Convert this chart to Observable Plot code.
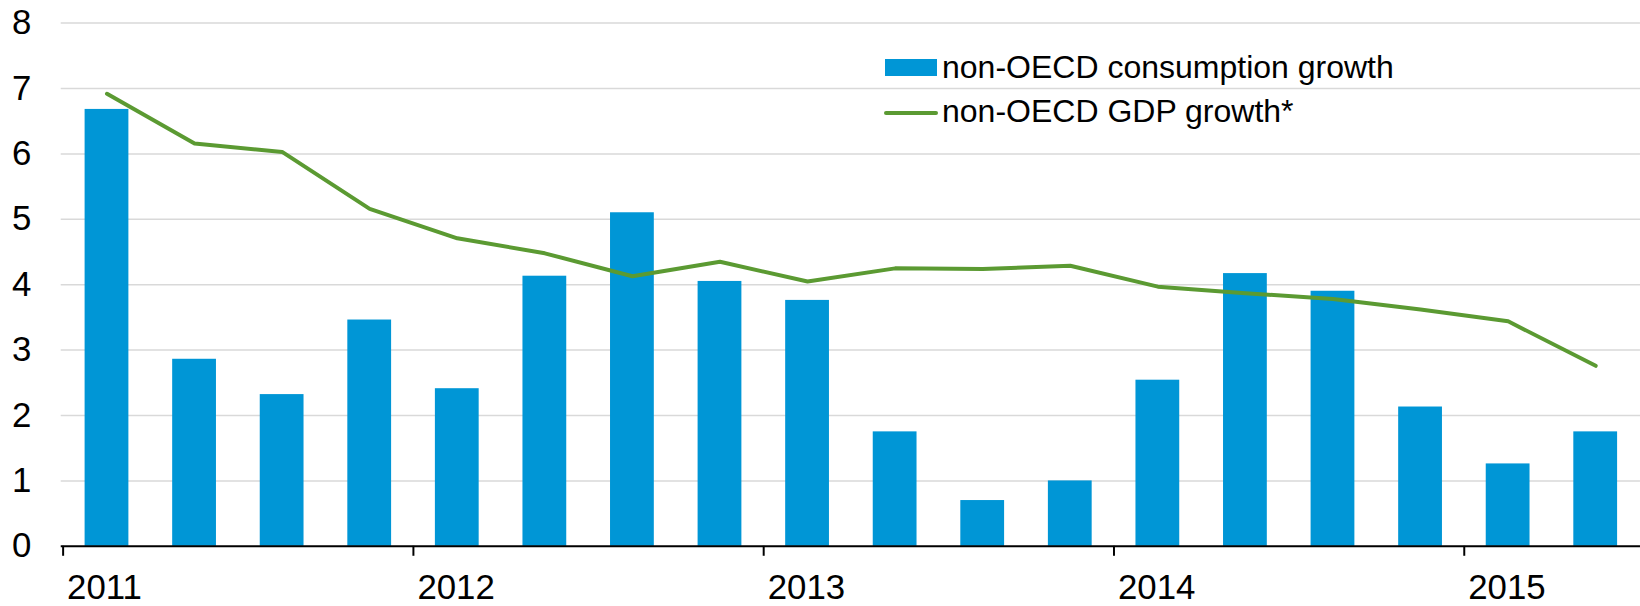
<!DOCTYPE html>
<html>
<head>
<meta charset="utf-8">
<script src="https://cdn.jsdelivr.net/npm/d3@7"></script>
<script src="https://cdn.jsdelivr.net/npm/@observablehq/plot@0.6"></script>
<style>
  html, body { margin: 0; padding: 0; background: #fff; overflow: hidden; }
  #wrap { position: relative; width: 1640px; height: 606px; overflow: hidden; }
  .lg { position: absolute; font-family: "Liberation Sans", Arial, sans-serif; font-size: 32px; line-height: 32px; color: #000; white-space: nowrap; }
  .sw { position: absolute; }
</style>
</head>
<body>
<div id="wrap"></div>
<script>
const quarters = ["2011Q1","2011Q2","2011Q3","2011Q4","2012Q1","2012Q2","2012Q3","2012Q4","2013Q1","2013Q2","2013Q3","2013Q4","2014Q1","2014Q2","2014Q3","2014Q4","2015Q1","2015Q2"];
const consumptionGrowth = [6.68, 2.86, 2.32, 3.46, 2.41, 4.13, 5.10, 4.05, 3.76, 1.75, 0.70, 1.00, 2.54, 4.17, 3.90, 2.13, 1.26, 1.75];
const gdpGrowth = [6.92, 6.16, 6.03, 5.16, 4.71, 4.48, 4.13, 4.35, 4.05, 4.25, 4.24, 4.29, 3.97, 3.87, 3.78, 3.62, 3.44, 2.76];
const yTicks = [0, 1, 2, 3, 4, 5, 6, 7, 8];
const yearTicks = ["2011Q1","2012Q1","2013Q1","2014Q1","2015Q1"];
const seriesNames = ["non-OECD consumption growth", "non-OECD GDP growth*"];

const barColor = "#0096d6";
const lineColor = "#5b9a32";

const data = quarters.map((q, i) => ({q, cons: consumptionGrowth[i], gdp: gdpGrowth[i]}));

const W = 1648, H = 606, ML = 61, MR = 0;
const step = (W - ML - MR) / quarters.length;

const chart = Plot.plot({
  width: W,
  height: H,
  marginLeft: ML,
  marginRight: MR,
  marginTop: 22.7,
  marginBottom: 57.5,
  style: {fontFamily: "Liberation Sans, Arial, sans-serif", fontSize: "35px", color: "#000", background: "#fff"},
  x: {type: "band", domain: quarters, paddingInner: 0.5, paddingOuter: 0.25, label: null},
  y: {domain: [0, 8], label: null},
  marks: [
    Plot.ruleY(yTicks.filter(d => d > 0), {stroke: "#d9d9d9", strokeWidth: 1.5}),
    Plot.barY(data, {x: "q", y: "cons", fill: barColor}),
    Plot.line(data, {x: "q", y: "gdp", stroke: lineColor, strokeWidth: 4, strokeLinejoin: "round", strokeLinecap: "round"}),
    Plot.ruleY([0], {stroke: "#000", strokeWidth: 2}),
    Plot.axisY({ticks: yTicks, anchor: "left", label: null, tickSize: 0, tickPadding: 30, fontSize: 35, tickFormat: d => String(d)}),
    Plot.axisX({ticks: yearTicks, anchor: "bottom", label: null, tickSize: 10, tickFormat: () => "", dx: -step / 2, stroke: "#000", strokeWidth: 2}),
    Plot.axisX({ticks: yearTicks, anchor: "bottom", label: null, tickSize: 0, tickPadding: 28, fontSize: 35, textAnchor: "start", dx: -step / 2 + 4, tickFormat: d => d.slice(0, 4)})
  ]
});

const wrap = document.getElementById("wrap");
wrap.appendChild(chart);

// legend (HTML overlay)
function add(html) { const t = document.createElement("div"); t.innerHTML = html; wrap.appendChild(t.firstElementChild); }
add(`<div class="sw" style="left:885px;top:59.3px;width:52px;height:16.4px;background:${barColor}"></div>`);
add(`<div class="lg" style="left:942px;top:50.6px">${seriesNames[0]}</div>`);
add(`<div class="sw" style="left:884px;top:110.5px;width:54px;height:4px;border-radius:2px;background:${lineColor}"></div>`);
add(`<div class="lg" style="left:942px;top:94.6px">${seriesNames[1]}</div>`);
</script>
</body>
</html>
